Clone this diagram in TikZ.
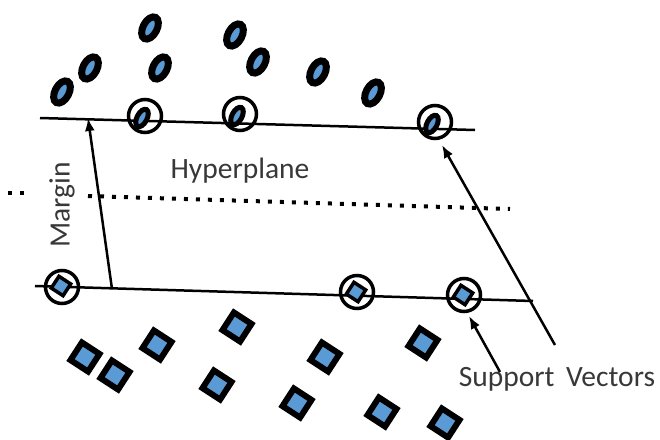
\documentclass[tikz,border=0pt]{standalone}
\usepackage{fontspec}
\setmainfont{Carlito}
\usetikzlibrary{shapes.geometric,arrows.meta}
\definecolor{ptblue}{RGB}{91,155,213}
\definecolor{txtgray}{RGB}{56,56,56}
\begin{document}
\begin{tikzpicture}[x=1pt,y=-1pt,
  ovalpt/.style={ellipse, draw=black, fill=ptblue, line width=7pt,
    minimum width=24pt, minimum height=14pt, inner sep=0pt, outer sep=0pt, rotate=62},
  smalloval/.style={ellipse, draw=black, fill=ptblue, line width=5pt,
    minimum width=19pt, minimum height=10pt, inner sep=0pt, outer sep=0pt, rotate=62},
  sqpt/.style={rectangle, draw=black, fill=ptblue, line width=6pt,
    minimum size=21pt, inner sep=0pt, outer sep=0pt, rotate=-33},
  smallsq/.style={rectangle, draw=black, fill=ptblue, line width=3.5pt,
    minimum size=14pt, inner sep=0pt, outer sep=0pt, rotate=-33},
  ring/.style={circle, draw=black, line width=3.5pt, minimum size=33pt,
    inner sep=0pt, outer sep=0pt},
  bound/.style={draw=black, line width=2.5pt},
  hyper/.style={draw=black, line width=4pt, dash pattern=on 4pt off 8pt},
  pointer/.style={draw=black, line width=2.5pt, -{Latex[length=13pt,width=10pt]}},
  lbl/.style={text=txtgray, inner sep=0pt, font=\fontsize{29.5}{30}\selectfont}
]
\useasboundingbox (0,0) rectangle (660,439);

% positive class (ovals)
\node[ovalpt] (o1) at (150,28) {};
\node[ovalpt] (o2) at (235,35) {};
\node[ovalpt] (o3) at (90,68) {};
\node[ovalpt] (o4) at (160,68) {};
\node[ovalpt] (o5) at (258,62) {};
\node[ovalpt] (o6) at (318,72) {};
\node[ovalpt] (o7) at (373,93) {};
\node[ovalpt] (o8) at (62,92) {};

% negative class (squares)
\node[sqpt] (s1) at (85,357) {};
\node[sqpt] (s2) at (115,375) {};
\node[sqpt] (s3) at (157,345) {};
\node[sqpt] (s4) at (237,327) {};
\node[sqpt] (s5) at (217,385) {};
\node[sqpt] (s6) at (325,357) {};
\node[sqpt] (s7) at (297,403) {};
\node[sqpt] (s8) at (382,412) {};
\node[sqpt] (s9) at (423,343) {};
\node[sqpt] (s10) at (445,423) {};

% margin boundaries
\coordinate (up1) at (40,118);
\coordinate (up2) at (475,130);
\coordinate (lo1) at (35,286);
\coordinate (lo2) at (533,301);
\draw[bound] (up1) -- (up2);
\draw[bound] (lo1) -- (lo2);

% separating hyperplane
\coordinate (hp0) at (8,193);
\coordinate (hp1) at (27,193);
\coordinate (hp2) at (88,196);
\coordinate (hp3) at (510,209);
\draw[hyper] (hp0) -- (hp1);
\draw[hyper] (hp2) -- (hp3);

% support vectors on the upper boundary
\node[smalloval] (v1) at (142,118) {};
\node[ring] (r1) at (145,116) {};
\node[smalloval] (v2) at (237,116) {};
\node[ring] (r2) at (240,114) {};
\node[smalloval] (v3) at (432,124) {};
\node[ring] (r3) at (435,122) {};

% support vectors on the lower boundary
\node[smallsq] (w1) at (61,286) {};
\node[ring] (q1) at (62,287) {};
\node[smallsq] (w2) at (356,292) {};
\node[ring] (q2) at (357,292) {};
\node[smallsq] (w3) at (463,295) {};
\node[ring] (q3) at (464,295) {};

% labels
\node[lbl] (hyp) at (240,171) {Hyperplane};
\node[lbl, rotate=90] (mar) at (62,205) {Margin};
\node[lbl] (sv) at (557,379) {Support\, Vectors};

% margin arrow
\coordinate (mbase) at (112,289);
\coordinate (mtip) at (88,118);
\draw[pointer] (mbase) -- (mtip);

% support vector pointers
\coordinate (p1tail) at (555,345);
\coordinate (p1tip) at (442,145);
\coordinate (p2tail) at (500,372);
\coordinate (p2tip) at (469,316);
\draw[pointer] (p1tail) -- (p1tip);
\draw[pointer] (p2tail) -- (p2tip);
\end{tikzpicture}
\end{document}
